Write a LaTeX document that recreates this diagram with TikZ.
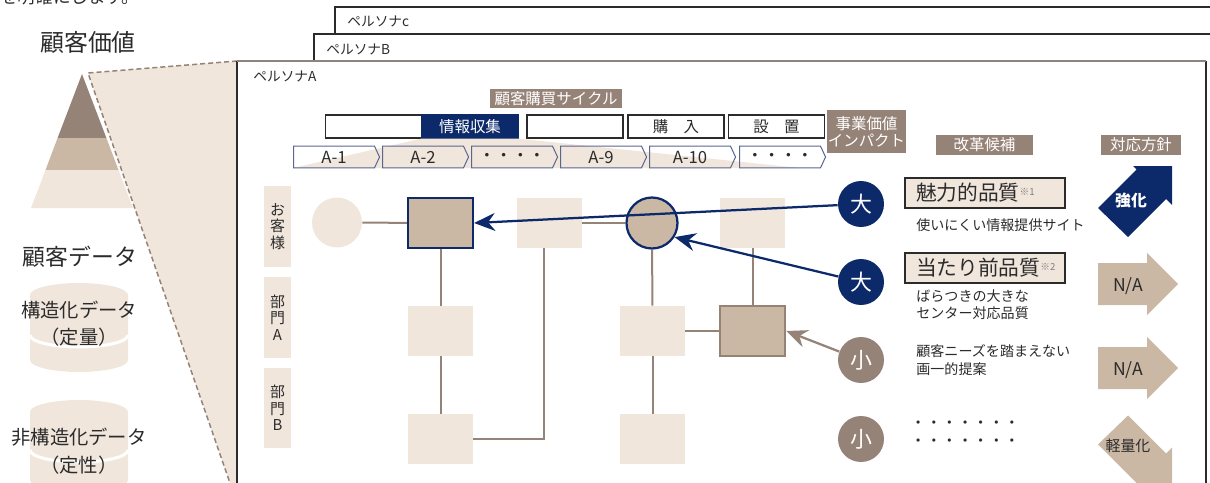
\documentclass[tikz,border=0pt]{standalone}
\usepackage{fontspec}
\setmainfont{Noto Sans CJK JP}
\usetikzlibrary{arrows.meta,positioning,shapes.symbols}
\definecolor{navy}{HTML}{0C2A6A}
\definecolor{taupe}{HTML}{968378}
\definecolor{sand}{HTML}{CBB8A4}
\definecolor{cream}{HTML}{F0E6DC}
\definecolor{ink}{HTML}{2B2B2B}
\definecolor{slate}{HTML}{5A6590}
\definecolor{rim}{HTML}{8B8580}
\newcommand{\refmark}[1]{{\fontsize{5.5}{6}\selectfont\color{gray}\raisebox{1.1ex}{#1}}}
\begin{document}
\begin{tikzpicture}[x=0.02cm,y=-0.02cm,
    every node/.style={inner sep=0pt,text=ink},
    persona/.style={anchor=west,font=\fontsize{7.8}{8}\selectfont},
    lane/.style={fill=cream,minimum width=5.4mm,minimum height=16.2mm,align=center,font=\fontsize{8.5}{9.3}\selectfont},
    cell/.style={fill=cream,minimum width=13mm,minimum height=10mm},
    hitcell/.style={cell,fill=sand,draw=navy,line width=0.45mm},
    spot/.style={circle,fill=cream,minimum size=10mm},
    hitspot/.style={spot,fill=sand,draw=navy,line width=0.45mm},
    link/.style={draw=taupe,line width=0.4mm},
    hint/.style={draw=navy,line width=0.45mm,-{Stealth[length=4.2mm,width=3.6mm,inset=1.4mm]}},
    impact/.style={circle,minimum size=9.2mm,text=white,font=\fontsize{12.5}{13}\selectfont},
    tag/.style={fill=taupe,text=white,font=\fontsize{8.8}{9.5}\selectfont,align=center},
    phase/.style={draw=ink,line width=0.25mm,fill=white,minimum width=19.2mm,minimum height=4.6mm,font=\fontsize{8.8}{9}\selectfont},
    stage/.style={signal,signal to=east,signal pointer angle=130,draw=slate,line width=0.2mm,minimum width=17.2mm,minimum height=4.4mm,font=\fontsize{9.5}{10}\selectfont},
    quality/.style={draw=ink,line width=0.3mm,fill=cream,minimum height=6mm,text width=27.6mm,inner xsep=2.2mm,align=left,font=\fontsize{11.8}{12}\selectfont},
    issue/.style={anchor=west,align=left,font=\fontsize{8}{9.8}\selectfont},
  ]
  \useasboundingbox (0,0) rectangle (1210,483);

  % lead text, cut at the top
  \node[anchor=west,font=\fontsize{10}{10}\selectfont] (lead) at (0,-3) {を明確にします。};

  % left column: value pyramid and data
  \node[font=\fontsize{13.6}{14}\selectfont] (value) at (88,42) {顧客価値};
  \fill[taupe] (82,74) -- (106.4,138) -- (57.6,138) -- cycle;
  \fill[sand] (57.6,138) -- (106.4,138) -- (118.5,170) -- (45.5,170) -- cycle;
  \fill[cream] (45.5,170) -- (118.5,170) -- (133,208) -- (31,208) -- cycle;

  \coordinate (fanA) at (88,73);
  \coordinate (fanB) at (237,61);
  \coordinate (fanC) at (232.4,490);
  \fill[cream] (fanA) -- (fanB) -- (237,490) -- (fanC) -- cycle;
  \draw[taupe,line width=0.3mm,dash pattern=on 1mm off 0.6mm] (fanB) -- (fanA) -- (fanC);

  \node[font=\fontsize{13}{14}\selectfont] (data) at (80,257) {顧客データ};
  \fill[cream] (30,295) arc[start angle=180,end angle=360,x radius=49,y radius=12]
    -- (128,360) arc[start angle=0,end angle=180,x radius=49,y radius=12] -- cycle;
  \draw[white,line width=0.6mm] (30,335) arc[start angle=180,end angle=0,x radius=49,y radius=12];
  \fill[cream] (30,412) arc[start angle=180,end angle=360,x radius=49,y radius=12]
    -- (128,480) arc[start angle=0,end angle=180,x radius=49,y radius=12] -- cycle;
  \draw[white,line width=0.6mm] (30,450) arc[start angle=180,end angle=0,x radius=49,y radius=12];
  \node[font=\fontsize{11}{15.3}\selectfont,align=center] (quant) at (79,323.5) {構造化データ\\（定量）};
  \node[font=\fontsize{11}{16}\selectfont,align=center] (qual) at (79,451.5) {非構造化データ\\（定性）};

  % persona frames
  \draw[ink,line width=0.25mm] (335,34) -- (335,7) -- (1215,7);
  \draw[ink,line width=0.25mm] (314,61) -- (314,34) -- (1215,34);
  \draw[ink,line width=0.25mm] (237,490) -- (237,61);
  \draw[ink,line width=0.3mm] (1206,61) -- (1206,490);
  \draw[rim,line width=0.4mm] (237,61) -- (1206,61);
  \node[persona] (pc) at (347,21) {ペルソナc};
  \node[persona] (pb) at (326,49) {ペルソナB};
  \node[persona] (pa) at (253,76) {ペルソナA};

  % purchase cycle header
  \node[tag,minimum width=26.4mm,minimum height=3.8mm] (cycle) at (556,98.5) {顧客購買サイクル};
  \node[phase] (p1) at (373.5,126.5) {};
  \node[phase,fill=navy,draw=navy,text=white] (p2) at (470,126.5) {情報収集};
  \node[phase] (p3) at (575,126.5) {};
  \node[phase] (p4) at (676,126.5) {購　入};
  \node[phase] (p5) at (776.5,126.5) {設　置};

  \fill[cream] (p2.south west) -- (p2.south east) -- (800,168) -- (293,168) -- cycle;
  \foreach \x/\t [count=\i] in {334/A-1,423/A-2,512/・・・・,601/A-9,690/A-10,780/・・・・}
    \node[stage] (a\i) at (\x,157) {\t};

  \node[tag,minimum width=15.8mm,minimum height=8.6mm] (impact) at (866.5,131.5) {事業価値\\インパクト};
  \node[tag,minimum width=19.4mm,minimum height=4mm] (reform) at (984.5,145) {改革候補};
  \node[tag,minimum width=16mm,minimum height=4mm] (policy) at (1141,145) {対応方針};

  % lanes
  \node[lane] (guest) at (277.5,226.5) {お\\客\\様};
  \node[lane] (deptA) at (277.5,317.5) {部\\門\\A};
  \node[lane] (deptB) at (277.5,408) {部\\門\\B};

  % touch points
  \node[spot] (c1) at (337,222.5) {};
  \node[hitcell] (s1) at (440.5,223) {};
  \node[cell] (s2) at (549.5,223) {};
  \node[hitspot,minimum size=10.2mm] (c2) at (652,223) {};
  \node[cell] (s3) at (752.5,223) {};
  \node[cell] (r1) at (440.5,331) {};
  \node[cell] (r2) at (652.5,331) {};
  \node[cell,fill=sand,draw=taupe,line width=0.5mm] (r3) at (752.5,331) {};
  \node[cell] (b1) at (440.5,439) {};
  \node[cell] (b2) at (652.5,439) {};

  \draw[link] (c1) -- (s1);
  \draw[link] (s1) -- (r1);
  \draw[link] (r1) -- (b1);
  \draw[link] (b1.east) -| ([xshift=-1.1mm]s2.south);
  \draw[link] (s2) -- (c2);
  \draw[link] (c2) -- (r2);
  \draw[link] (r2) -- (b2);
  \draw[link] (r2) -- (r3);
  \draw[link] (s3) -- (r3);

  % impact
  \node[impact,fill=navy] (big1) at (861,204) {大};
  \node[impact,fill=navy] (big2) at (861,282) {大};
  \node[impact,fill=taupe] (small1) at (861,360) {小};
  \node[impact,fill=taupe] (small2) at (861,439) {小};

  \draw[hint] (big1) -- (s1.east);
  \draw[hint] (big2) -- (c2.-32);
  \draw[hint,draw=taupe] (small1) -- (r3.east);

  % reform candidates
  \node[quality] (q1) at (985,193) {魅力的品質\refmark{※1}};
  \node[issue] (i1) at (916,225) {使いにくい情報提供サイト};
  \node[quality] (q2) at (985,268) {当たり前品質\refmark{※2}};
  \node[issue] (i2) at (916,304.5) {ばらつきの大きな\\センター対応品質};
  \node[issue] (i3) at (916,360) {顧客ニーズを踏まえない\\画一的提案};
  \node[issue,font=\fontsize{8.9}{10.2}\selectfont] (i4) at (910,434) {・・・・・・・\\・・・・・・・};

  % policies
  \fill[navy] (1098,208) -- (1136.5,169.5) -- (1133,166) -- (1172,166) -- (1172,205) -- (1166,199) -- (1128,237) -- cycle;
  \node[text=white,font=\bfseries\fontsize{9}{9}\selectfont] (strong) at (1131,201) {強化};
  \foreach \y [count=\i] in {284,368} {
    \fill[sand] (1098,\y-21) -- (1147,\y-21) -- (1147,\y-31) -- (1178,\y) -- (1147,\y+31) -- (1147,\y+21) -- (1098,\y+21) -- cycle;
    \node[font=\fontsize{10}{10}\selectfont] (na\i) at (1128,\y+2) {N/A};
  }
  \fill[sand] (1128,415.5) -- (1166,453.5) -- (1172,447.5) -- (1172,486.5) -- (1133,486.5) -- (1136.5,483) -- (1098,444.5) -- cycle;
  \node[font=\fontsize{8.5}{9}\selectfont] (light) at (1128,446) {軽量化};
\end{tikzpicture}
\end{document}
